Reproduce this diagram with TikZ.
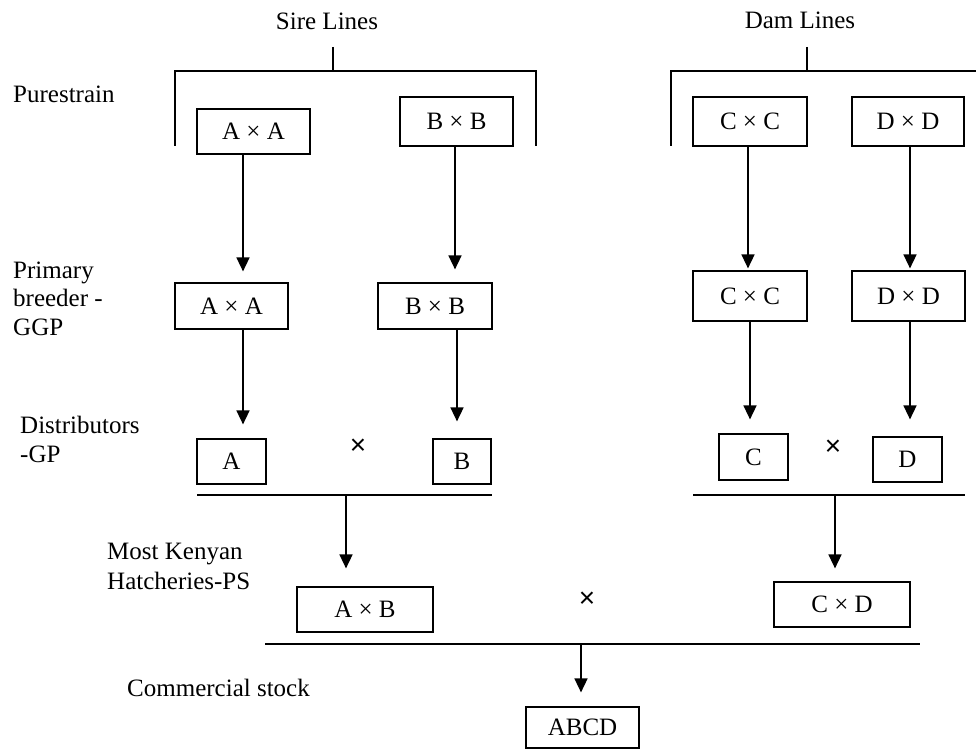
\documentclass[tikz,border=0pt]{standalone}
\usepackage{fontspec}
\setmainfont{Liberation Serif}
\newfontfamily\crossfont{Liberation Sans}
\usetikzlibrary{arrows.meta}
\begin{document}
\begin{tikzpicture}[x=1pt,y=-1pt,
  every node/.style={font=\fontsize{25}{29}\selectfont},
  lbl/.style={anchor=base west,inner sep=0pt},
  ttl/.style={anchor=base,inner sep=0pt},
  box/.style={draw,line width=1.2pt,inner sep=0pt},
  ln/.style={line width=1.5pt},
  arr/.style={line width=1.6pt,-{Triangle[length=14pt,width=13pt]}},
  crs/.style={inner sep=0pt,font=\crossfont\fontsize{28}{28}\selectfont}]
\useasboundingbox (0,0) rectangle (976,751);

% titles and level labels
\node[ttl] (sire) at (327,30) {Sire Lines};
\node[ttl] (dam) at (800,29) {Dam Lines};
\node[lbl] (pure) at (13,103) {Purestrain};
\node[lbl] (prim1) at (13,278) {Primary};
\node[lbl] (prim2) at (13,306) {breeder -};
\node[lbl] (prim3) at (13,335) {GGP};
\node[lbl] (dist1) at (20,433) {Distributors};
\node[lbl] (dist2) at (20,462) {-GP};
\node[lbl] (most1) at (107,559) {Most Kenyan};
\node[lbl] (most2) at (107,589) {Hatcheries-PS};
\node[lbl] (comm) at (127,696) {Commercial stock};

% brackets
\coordinate (sT) at (333,47); \coordinate (sTb) at (333,71);
\coordinate (sBL) at (175,146); \coordinate (sHL) at (175,71);
\coordinate (sHR) at (536,71); \coordinate (sBR) at (536,146);
\draw[ln] (sT) -- (sTb);
\draw[ln] (sBL) -- (sHL) -- (sHR) -- (sBR);
\coordinate (dT) at (807,47); \coordinate (dTb) at (807,71);
\coordinate (dBL) at (671,146); \coordinate (dHL) at (671,71);
\coordinate (dHR) at (976,71);
\draw[ln] (dT) -- (dTb);
\draw[ln] (dBL) -- (dHL) -- (dHR);

% purestrain boxes
\node[box,minimum width=113pt,minimum height=45pt] (tAA) at (253.5,131.5) {A × A};
\node[box,minimum width=113pt,minimum height=49pt] (tBB) at (456.5,121.5) {B × B};
\node[box,minimum width=114pt,minimum height=49pt] (tCC) at (750,121.5) {C × C};
\node[box,minimum width=112pt,minimum height=49pt] (tDD) at (908,121.5) {D × D};

% GGP boxes
\node[box,minimum width=113pt,minimum height=46pt] (mAA) at (231.5,306) {A × A};
\node[box,minimum width=114pt,minimum height=46pt] (mBB) at (435,306) {B × B};
\node[box,minimum width=114pt,minimum height=50pt] (mCC) at (750,296) {C × C};
\node[box,minimum width=113pt,minimum height=50pt] (mDD) at (908.5,296) {D × D};

% GP boxes
\node[box,minimum width=69pt,minimum height=45pt] (dA) at (231.5,461.5) {A};
\node[box,minimum width=58pt,minimum height=45pt] (dB) at (462,461.5) {B};
\node[box,minimum width=69pt,minimum height=46pt] (dC) at (753.5,457) {C};
\node[box,minimum width=69pt,minimum height=45pt] (dD) at (907.5,459.5) {D};
\node[crs] (x1) at (358,447) {×};
\node[crs] (x2) at (833,448) {×};

% PS boxes
\node[box,minimum width=136pt,minimum height=45pt] (pAB) at (365,609.5) {A × B};
\node[box,minimum width=136pt,minimum height=45pt] (pCD) at (842,604.5) {C × D};
\node[crs] (x3) at (587,600) {×};

% commercial
\node[box,minimum width=113pt,minimum height=41pt] (abcd) at (582.5,727.5) {ABCD};

% cross lines
\coordinate (sL) at (197,495); \coordinate (sR) at (492,495); \coordinate (sM) at (346,495);
\coordinate (cL) at (693,495); \coordinate (cR) at (965,495); \coordinate (cM) at (835,495);
\coordinate (bL) at (265,644); \coordinate (bR) at (920,644); \coordinate (bM) at (581,644);
\draw[ln] (sL) -- (sR);
\draw[ln] (cL) -- (cR);
\draw[ln] (bL) -- (bR);

% arrows
\draw[arr,shorten >=11pt] ([xshift=-10.5pt]tAA.south) -- ([xshift=11.5pt]mAA.north);
\draw[arr,shorten >=13pt] ([xshift=-1.5pt]tBB.south) -- ([xshift=20pt]mBB.north);
\draw[arr,shorten >=2pt] ([xshift=-2pt]tCC.south) -- ([xshift=-2pt]mCC.north);
\draw[arr,shorten >=2pt] ([xshift=2pt]tDD.south) -- ([xshift=1.5pt]mDD.north);
\draw[arr,shorten >=14pt] ([xshift=11.5pt]mAA.south) -- ([xshift=11.5pt]dA.north);
\draw[arr,shorten >=17pt] ([xshift=22pt]mBB.south) -- ([xshift=-5pt]dB.north);
\draw[arr,shorten >=14pt] (mCC.south) -- ([xshift=-3.5pt]dC.north);
\draw[arr,shorten >=17pt] ([xshift=1.5pt]mDD.south) -- ([xshift=2.5pt]dD.north);
\draw[arr,shorten >=18pt] (sM) -- ([xshift=-19pt]pAB.north);
\draw[arr,shorten >=13pt] (cM) -- ([xshift=-7pt]pCD.north);
\draw[arr,shorten >=14pt] (bM) -- ([xshift=-1.5pt]abcd.north);
\end{tikzpicture}
\end{document}
